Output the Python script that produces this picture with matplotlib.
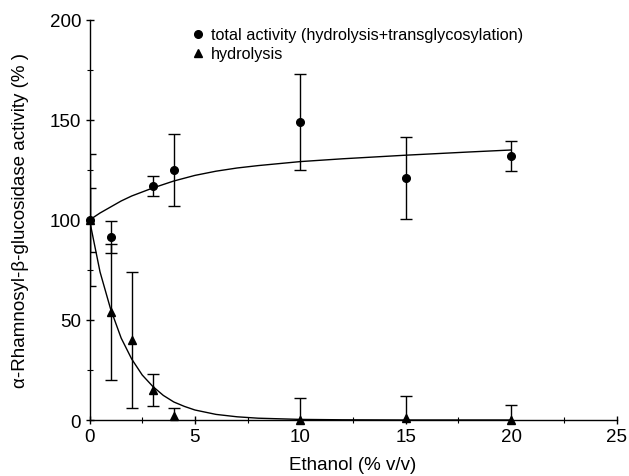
import matplotlib
matplotlib.use("Agg")
import matplotlib.pyplot as plt
from matplotlib.lines import Line2D

plt.rcParams['font.family'] = ['Liberation Sans', 'DejaVu Sans']

# data
ethanol = [0, 1, 3, 4, 10, 15, 20]
total = [100, 91.5, 117, 125, 149, 121, 132]
total_err = [16, 8, 5, 18, 24, 20.5, 7.5]

ethanol_h = [0, 1, 2, 3, 4, 10, 15, 20]
hydro = [100, 54, 40, 15, 2, 0, 1, 0]
hydro_err = [33, 34, 34, 8, 4, 11, 11, 7.5]

# fitted curves
fit_x_total = [0, 0.5, 1, 1.5, 2, 3, 4, 5, 6, 7, 8, 10, 12, 15, 18, 20]
fit_y_total = [100, 103.5, 106.5, 109.5, 112, 116, 119.5, 122.3, 124.4, 126, 127.2, 129.2, 130.6, 132.4, 134, 135]
fit_x_hydro = [0, 0.5, 1, 1.5, 2, 2.5, 3, 3.5, 4, 4.5, 5, 6, 7, 8, 10, 12, 15, 20]
fit_y_hydro = [100, 74, 55.5, 41, 30.5, 22.5, 16.8, 12.3, 9, 6.8, 5, 2.8, 1.6, 0.9, 0.3, 0.1, 0, 0]

fig = plt.figure(figsize=(6.29, 4.77), dpi=100)
ax = fig.add_axes([0.1423, 0.1174, 0.838, 0.8386])

ax.plot(fit_x_total, fit_y_total, color='black', lw=1.0)
ax.plot(fit_x_hydro, fit_y_hydro, color='black', lw=1.0)

ax.errorbar(ethanol, total, yerr=total_err, fmt='none', ecolor='black',
            elinewidth=1.0, capsize=4, capthick=1.0)
ax.errorbar(ethanol_h, hydro, yerr=hydro_err, fmt='none', ecolor='black',
            elinewidth=1.0, capsize=4, capthick=1.0)
ax.plot(ethanol, total, 'o', color='black', ms=5.5, clip_on=False, zorder=5)
ax.plot(ethanol_h, hydro, '^', color='black', ms=6, clip_on=False, zorder=5)

ax.set_xlim(0, 25)
ax.set_ylim(0, 200)
ax.set_xticks([0, 5, 10, 15, 20, 25])
ax.set_xticks([2.5, 7.5, 12.5, 17.5, 22.5], minor=True)
ax.set_yticks([0, 50, 100, 150, 200])
ax.set_yticks([25, 75, 125, 175], minor=True)

for s in ['top', 'right']:
    ax.spines[s].set_visible(False)
for s in ['left', 'bottom']:
    ax.spines[s].set_linewidth(1.0)

ax.tick_params(axis='both', which='major', direction='inout', length=6, width=1.0, labelsize=13.5, pad=3)
ax.tick_params(axis='both', which='minor', direction='inout', length=5, width=0.8)

ax.set_xlabel('Ethanol (% v/v)', fontsize=13.5, labelpad=8)
ax.set_ylabel('α-Rhamnosyl-β-glucosidase activity (% )', fontsize=13.5, labelpad=15)

handles = [Line2D([], [], marker='o', ls='none', color='black', ms=5.5),
           Line2D([], [], marker='^', ls='none', color='black', ms=6)]
ax.legend(handles, ['total activity (hydrolysis+transglycosylation)', 'hydrolysis'],
          loc='upper left', bbox_to_anchor=(0.172, 1.01), frameon=False,
          fontsize=11.7, handlelength=0.8, handletextpad=0.4, labelspacing=0.25,
          borderaxespad=0.3)

fig.savefig('out.png', dpi=100)
